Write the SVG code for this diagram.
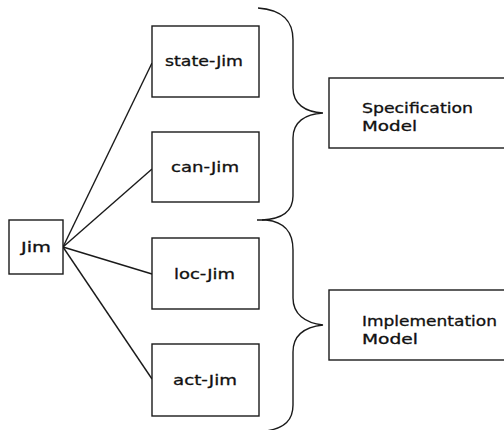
<svg xmlns="http://www.w3.org/2000/svg" width="504" height="430" viewBox="0 0 504 430">
  <style>
    .box { fill: #fff; stroke: #1a1a1a; stroke-width: 1.4; }
    .lbl { font-family: "DejaVu Sans", "Liberation Sans", sans-serif; font-size: 14px; fill: #111; stroke: #111; stroke-width: 0.3; }
    .edge { fill: none; stroke: #1a1a1a; stroke-width: 1.4; }
  </style>
  <rect width="504" height="430" fill="#fff"/>

  <!-- connectors: Jim fans out to its four views, braces group them into models -->
  <g id="connectors">
    <line class="edge" x1="63" y1="247" x2="152" y2="63"/>
    <line class="edge" x1="63" y1="247" x2="152" y2="169"/>
    <line class="edge" x1="63" y1="247" x2="152" y2="274"/>
    <line class="edge" x1="63" y1="247" x2="152" y2="379"/>
    <path class="edge" d="M258,8 C284,10 293,22 293,40 L293,88 C293,104 305,112 323,113 C305,114 293,122 293,138 L293,196 C293,211 283,219 262,220"/>
    <path class="edge" d="M257,220 L266,220 C285,222 293,232 293,250 L293,298 C293,314 305,323 323,325 C305,327 293,335 293,352 L293,405 C293,420 285,428 266,431"/>
  </g>

  <g id="jim">
    <rect class="box" x="9" y="220" width="54" height="54"/>
    <text class="lbl" x="21" y="252" textLength="30" lengthAdjust="spacingAndGlyphs">Jim</text>
  </g>

  <g id="state-jim">
    <rect class="box" x="152" y="26" width="107" height="71"/>
    <text class="lbl" x="165" y="66" textLength="78" lengthAdjust="spacingAndGlyphs">state-Jim</text>
  </g>

  <g id="can-jim">
    <rect class="box" x="152" y="132" width="107" height="70"/>
    <text class="lbl" x="171" y="172" textLength="68" lengthAdjust="spacingAndGlyphs">can-Jim</text>
  </g>

  <g id="loc-jim">
    <rect class="box" x="152" y="238" width="107" height="71"/>
    <text class="lbl" x="174" y="279" textLength="61" lengthAdjust="spacingAndGlyphs">loc-Jim</text>
  </g>

  <g id="act-jim">
    <rect class="box" x="152" y="344" width="107" height="72"/>
    <text class="lbl" x="173" y="385" textLength="64" lengthAdjust="spacingAndGlyphs">act-Jim</text>
  </g>

  <g id="specification-model">
    <rect class="box" x="329" y="78" width="180" height="70"/>
    <text class="lbl" x="362" y="113" textLength="111" lengthAdjust="spacingAndGlyphs">Specification</text>
    <text class="lbl" x="362" y="131" textLength="55" lengthAdjust="spacingAndGlyphs">Model</text>
  </g>

  <g id="implementation-model">
    <rect class="box" x="329" y="290" width="180" height="70"/>
    <text class="lbl" x="362" y="326" textLength="135" lengthAdjust="spacingAndGlyphs">Implementation</text>
    <text class="lbl" x="362" y="344" textLength="56" lengthAdjust="spacingAndGlyphs">Model</text>
  </g>
</svg>
